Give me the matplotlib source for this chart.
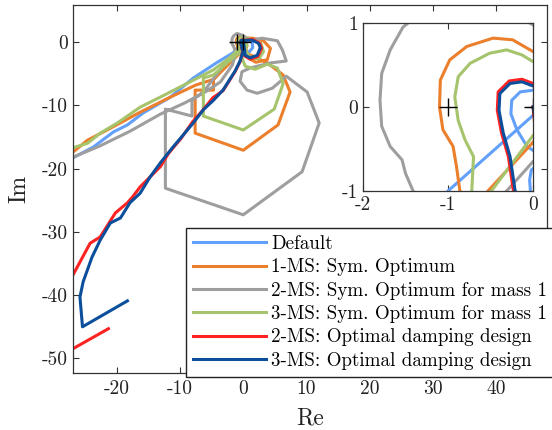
import matplotlib
matplotlib.use("Agg")
import matplotlib.pyplot as plt

plt.rcParams["font.family"] = "cmr10"
plt.rcParams["axes.unicode_minus"] = False
plt.rcParams["axes.formatter.use_mathtext"] = False

# Nyquist curves (Re, Im)
re_default = [-26.9, -23.7, -20.5, -18.3, -15.8, -11.5, -7.9, -4.1, -1.6, -1.0, 0.0, 0.7, 1.4, 1.5, 0.9, 0.2,
              -0.03, -0.04, -0.02, 0.1, 0.2, 0.15, 0.0, -0.15, -0.25, -0.26, -0.19, -0.07, 0.05, 0.12, 0.05, 0.0]
im_default = [-18.3, -16.6, -14.2, -13.1, -11.2, -8.7, -5.7, -3.2, -1.7, -1.0, -0.1, 0.45, 0.1, -0.9, -1.6, -1.5,
              -1.0, -0.87, -0.75, -0.65, -0.3, 0.15, 0.2, 0.18, 0.08, -0.08, -0.27, -0.47, -0.55, -0.4, -0.15, 0.0]

re_sym1 = [-26.9, -24.6, -21.5, -16.3, -11.5, -7.5, -4.7, -2.4, -0.53, 0.0, 0.35, 0.6, -4.7, -4.7, -7.6, -7.6,
           0.0, 5.5, 7.4, 6.3, 3.8, 1.5, -0.5, -0.86, -0.90, -0.94, -1.06, -1.10, -1.09, -0.98, -0.78, -0.47,
           -0.24, 0.0, 1.5, 3.2, 4.3, 3.8, 2.0, 0.9, 0.5, 0.4, 0.1, 0.0]
im_sym1 = [-17.4, -15.5, -13.9, -11.1, -8.7, -6.8, -5.9, -3.2, -1.0, -0.42, 0.0, -0.6, -5.9, -7.6, -7.6, -14.4,
           -17.1, -13.1, -7.9, -5.2, -3.3, -2.2, -1.4, -1.0, -0.71, -0.47, -0.27, 0.0, 0.32, 0.56, 0.72, 0.82,
           0.80, 0.66, 0.6, 0.2, -1.0, -2.8, -3.2, -2.6, -1.5, -0.6, -0.1, 0.0]

re_sym2 = [-26.9, -22.6, -17.9, -13.1, -9.2, -6.0, -3.6, -1.7, -1.2, -1.41, -1.5, -1.54, -1.68, -1.78, -1.8,
           -1.78, -1.68, -1.53, -1.41, -1.0, -0.2, 1.1, 3.0, 5.4, 6.2, 6.8, 4.3, 1.1, -0.2, -0.5, 0.6, 2.2, 4.6,
           6.8, 10.1, 12.0, 9.3, 0.0, -12.3, -12.3, -8.1, -8.1, -6.3, -3.0, -0.31, 0.0, 0.4, 0.0]
im_sym2 = [-18.2, -16.4, -14.1, -11.4, -9.6, -7.9, -6.3, -3.6, -1.8, -1.0, -0.79, -0.63, -0.47, -0.23, 0.08,
           0.4, 0.68, 0.95, 1.05, 1.35, 1.1, 0.3, 0.6, 0.2, -1.3, -3.0, -3.3, -4.1, -4.7, -6.2, -7.6, -8.1, -7.3,
           -5.4, -7.9, -12.8, -20.5, -27.3, -23.1, -10.6, -11.7, -9.2, -7.9, -3.5, -1.0, -0.65, -0.3, 0.0]

re_sym3 = [-26.9, -24.6, -22.6, -19.9, -16.3, -13.1, -8.8, -4.7, -2.3, -0.49, 0.0, 0.35, 0.6, -4.7, -6.3, -6.3,
           0.0, 4.9, 6.3, 5.4, 3.8, 1.9, 0.3, -0.4, -0.72, -0.70, -0.80, -0.88, -0.92, -0.88, -0.74, -0.51,
           -0.31, -0.13, 0.0, 1.3, 2.8, 3.2, 2.5, 1.2, 0.5, 0.3, 0.05, 0.0]
im_sym3 = [-16.7, -16.0, -14.4, -12.8, -10.3, -8.7, -6.5, -4.4, -2.6, -1.0, -0.34, 0.05, -0.6, -5.2, -5.7, -11.7,
           -13.9, -10.6, -6.6, -4.1, -3.5, -4.3, -3.8, -2.0, -1.0, -0.59, -0.39, -0.16, 0.12, 0.36, 0.52, 0.64,
           0.68, 0.62, 0.54, 0.4, -0.2, -1.5, -2.6, -2.6, -1.6, -0.6, -0.1, 0.0]

re_opt2 = [-21.3, -27.5, -30.0, -29.0, -26.9, -24.2, -22.6, -20.2, -18.3, -17.5, -16.3, -14.7, -13.1, -11.8,
           -9.8, -8.0, -6.5, -4.8, -3.2, -1.3, -0.5, -0.1, -0.23, -0.29, -0.37, -0.42, -0.41, -0.28, -0.13, 0.0,
           1.5, 2.6, 2.9, 2.3, 1.1, 0.2, 0.1, 0.05, 0.0]
im_opt2 = [-45.3, -48.8, -45.0, -40.0, -36.8, -31.8, -30.8, -27.0, -25.4, -24.5, -22.9, -21.3, -19.7, -17.6,
           -15.2, -12.6, -10.9, -8.8, -7.7, -4.7, -3.1, -1.5, -1.0, -0.59, -0.31, -0.04, 0.18, 0.31, 0.33, 0.28,
           0.4, -0.2, -1.0, -2.3, -2.7, -2.2, -1.2, -0.5, 0.0]

re_opt3 = [-18.3, -25.4, -25.8, -25.3, -23.9, -22.6, -21.0, -19.4, -17.9, -16.3, -14.7, -13.1, -11.1, -9.5,
           -7.9, -6.3, -4.7, -3.2, -1.3, -0.5, 0.0, -0.21, -0.27, -0.35, -0.40, -0.39, -0.27, -0.13, 0.0, 1.4,
           2.4, 2.7, 2.2, 1.1, 0.3, 0.2, 0.1, 0.0]
im_opt3 = [-40.9, -45.0, -40.3, -37.9, -34.0, -31.3, -28.6, -27.8, -25.4, -23.9, -21.3, -19.1, -16.6, -14.7,
           -12.8, -10.7, -9.2, -7.6, -4.6, -3.0, -1.4, -1.0, -0.59, -0.31, -0.04, 0.16, 0.28, 0.3, 0.25, 0.3,
           -0.2, -0.9, -2.1, -2.5, -2.1, -1.2, -0.5, 0.0]

labels = ["Default", "1-MS: Sym. Optimum", "2-MS: Sym. Optimum for mass 1",
          "3-MS: Sym. Optimum for mass 1", "2-MS: Optimal damping design",
          "3-MS: Optimal damping design"]
colors = ["#62a0fa", "#ec7f2c", "#9e9e9e", "#a6c46c", "#ff2222", "#0b4f9c"]
curves = [(re_default, im_default), (re_sym1, im_sym1), (re_sym2, im_sym2),
          (re_sym3, im_sym3), (re_opt2, im_opt2), (re_opt3, im_opt3)]

crit_re = [-1, 0]
crit_im = [0, 0]

spine_col = "#333333"


def style_axes(ax, size):
    for s in ax.spines.values():
        s.set_color(spine_col)
        s.set_linewidth(0.9)
    ax.tick_params(direction="in", top=True, right=True, length=4, width=0.8,
                   color=spine_col, labelsize=size, labelcolor="#222222")


fig = plt.figure(figsize=(5.52, 4.30), dpi=100)
ax = fig.add_axes([73 / 552, 57 / 430, 474 / 552, 368 / 430])

lines = []
for (re, im), c, lab in zip(curves, colors, labels):
    l, = ax.plot(re, im, color=c, lw=2.2, label=lab)
    lines.append(l)
ax.plot(crit_re, crit_im, "k+", ms=11, mew=1.0, ls="none")

ax.set_xlim(-26.9, 48.0)
ax.set_ylim(-52.3, 5.85)
ax.set_xticks([-20, -10, 0, 10, 20, 30, 40])
ax.set_yticks([-50, -40, -30, -20, -10, 0])
style_axes(ax, 14)
ax.tick_params(axis="x", pad=5)
ax.set_xlabel("Re", fontsize=17, color="#222222", labelpad=7)
ax.set_ylabel("Im", fontsize=17, color="#222222", labelpad=8)

# zoom around the critical point
axin = fig.add_axes([363 / 552, 239 / 430, 170 / 552, 168 / 430])
for (re, im), c in zip(curves, colors):
    axin.plot(re, im, color=c, lw=2.2)
axin.plot(crit_re, crit_im, "k+", ms=13, mew=1.0, ls="none")
axin.set_xlim(-2, 0)
axin.set_ylim(-1, 1)
axin.set_xticks([-2, -1, 0])
axin.set_yticks([-1, 0, 1])
style_axes(axin, 14)

leg = fig.legend(handles=lines, loc="upper left", bbox_to_anchor=(186 / 552, 1 - 228 / 430),
                 fontsize=13.7, frameon=True, fancybox=False, framealpha=1, edgecolor="#222222",
                 handlelength=3.8, handletextpad=0.3, labelspacing=0.28, borderpad=0.38,
                 borderaxespad=0)
leg.get_frame().set_linewidth(1.0)

fig.savefig("out.png", dpi=100)
